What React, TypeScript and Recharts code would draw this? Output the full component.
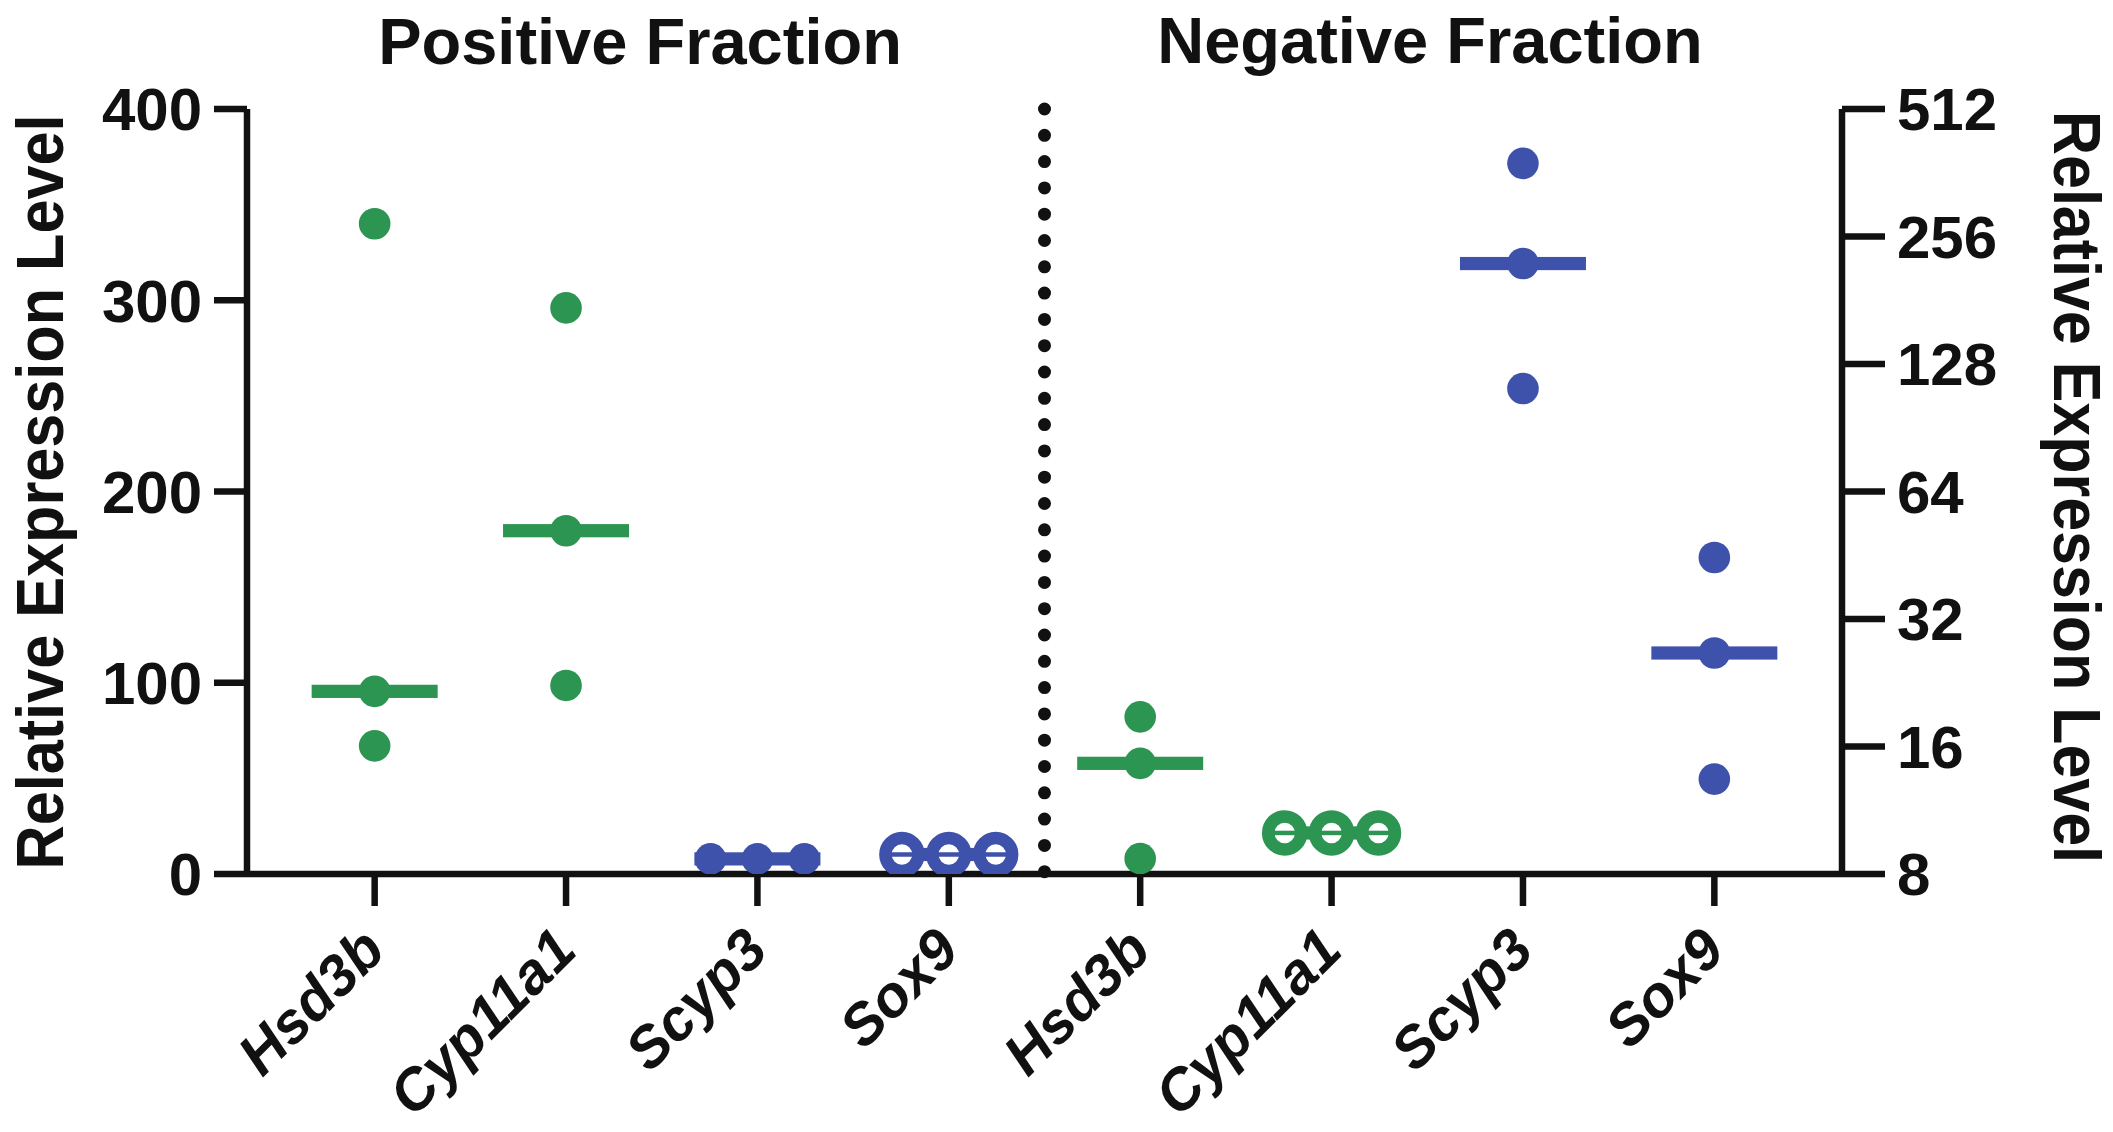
import React from 'react';
import { ComposedChart, Scatter, XAxis, YAxis, ReferenceLine } from 'recharts';

// genes on the x axis, first four = positive fraction, last four = negative fraction
const categories = ['Hsd3b', 'Cyp11a1', 'Scyp3', 'Sox9', 'Hsd3b', 'Cyp11a1', 'Scyp3', 'Sox9'];
const groupTitles = ['Positive Fraction', 'Negative Fraction'];

// three replicates per gene
const positiveValues = [
  [340, 95.5, 67],
  [296, 179.5, 98.6],
  [7.9, 7.9, 7.9],
  [10.2, 10.2, 10.2],
];
const negativeValues = [
  [18.8, 14.6, 8.7],
  [10, 10, 10],
  [381, 221, 112],
  [44.7, 26.6, 13.4],
];

const leftTicks = [0, 100, 200, 300, 400];
const rightTicks = [8, 16, 32, 64, 128, 256, 512];
const xTicks = [0, 1, 2, 3, 4, 5, 6, 7];

const GREEN = '#2b9551';
const BLUE = '#3f52ab';
const INK = '#111111';
const FONT = '"Liberation Sans", Arial, Helvetica, sans-serif';
const geneColors = [GREEN, GREEN, BLUE, BLUE];
const hollowMarkers = [false, false, false, true, false, true, false, false];

const AXIS_W = 6.5;
const X_DOMAIN: [number, number] = [-0.667, 7.667];

const median = (v: number[]) => [...v].sort((a, b) => a - b)[Math.floor(v.length / 2)];

// identical replicates get spread sideways, like prism does
const spreadOf = (v: number[]) =>
  v.every((d) => Math.abs(d - v[0]) < 0.5) ? v.map((_, j) => (j - (v.length - 1) / 2) * 0.245) : v.map(() => 0);

const buildPoints = (values: number[][], start: number) =>
  values.flatMap((vals, g) => {
    const offs = spreadOf(vals);
    return vals.map((v, j) => ({
      x: start + g + offs[j],
      y: v,
      color: geneColors[g],
      hollow: hollowMarkers[start + g],
    }));
  });

const buildMedians = (values: number[][], start: number) =>
  values.map((vals, g) => ({ x: start + g, y: median(vals), color: geneColors[g] }));

const positivePoints = buildPoints(positiveValues, 0);
const negativePoints = buildPoints(negativeValues, 4);
const positiveMedians = buildMedians(positiveValues, 0);
const negativeMedians = buildMedians(negativeValues, 4);

const Dot = (props: any) => {
  const { cx, cy, payload } = props;
  if (payload.hollow) {
    return (
      <g>
        <circle cx={cx} cy={cy} r={16.5} fill="#fff" stroke={payload.color} strokeWidth={12.5} />
        <line x1={cx - 11} x2={cx + 11} y1={cy} y2={cy} stroke={payload.color} strokeWidth={4.5} />
      </g>
    );
  }
  return <circle cx={cx} cy={cy} r={15.8} fill={payload.color} />;
};

const MedianBar = (props: any) => {
  const { cx, cy, payload } = props;
  return <rect x={cx - 63} y={cy - 6.6} width={126} height={13.2} fill={payload.color} />;
};

const GeneTick = (props: any) => {
  const { x, y, payload } = props;
  const ax = x + 13;
  const ay = y + 47;
  return (
    <text
      x={ax}
      y={ay}
      transform={`rotate(-45 ${ax} ${ay})`}
      textAnchor="end"
      fontFamily={FONT}
      fontSize={58}
      fontWeight="bold"
      fontStyle="italic"
      fill={INK}
    >
      {categories[payload.value]}
    </text>
  );
};

const tickText = { fontFamily: FONT, fontSize: 60, fontWeight: 'bold', fill: INK };
const axisLine = { stroke: INK, strokeWidth: AXIS_W };

export default function App() {
  return (
    <div style={{ position: 'relative', width: 2113, height: 1132, background: '#fff' }}>
      <style>{'body{margin:0}'}</style>
      <ComposedChart
        width={2113}
        height={1132}
        margin={{ top: 109, right: 121, bottom: 58, left: 97 }}
      >
        <XAxis
          dataKey="x"
          type="number"
          domain={X_DOMAIN}
          allowDataOverflow
          ticks={xTicks}
          interval={0}
          height={200}
          tickSize={32}
          tickMargin={0}
          axisLine={axisLine}
          tickLine={axisLine}
          tick={<GeneTick />}
        />
        <XAxis
          xAxisId="top"
          dataKey="x"
          orientation="top"
          type="number"
          domain={X_DOMAIN}
          allowDataOverflow
          height={0}
          axisLine={axisLine}
          tickLine={false}
          tick={false}
        />
        <YAxis
          yAxisId="left"
          dataKey="y"
          type="number"
          domain={[0, 400]}
          allowDataOverflow
          ticks={leftTicks}
          interval={0}
          width={150}
          tickSize={33}
          tickMargin={12}
          axisLine={axisLine}
          tickLine={axisLine}
          tick={tickText}
        />
        <YAxis
          yAxisId="right"
          dataKey="y"
          orientation="right"
          type="number"
          scale="log"
          domain={[8, 512]}
          allowDataOverflow
          ticks={rightTicks}
          interval={0}
          width={150}
          tickSize={43}
          tickMargin={12}
          axisLine={axisLine}
          tickLine={axisLine}
          tick={tickText}
        />
        <ReferenceLine
          yAxisId="left"
          segment={[{ x: 3.5, y: 400 }, { x: 3.5, y: 0 }]}
          stroke={INK}
          strokeWidth={13}
          strokeDasharray="0 26.3"
          strokeLinecap="round"
        />
        <Scatter yAxisId="left" data={positiveMedians} shape={<MedianBar />} isAnimationActive={false} />
        <Scatter yAxisId="right" data={negativeMedians} shape={<MedianBar />} isAnimationActive={false} />
        <Scatter yAxisId="left" data={positivePoints} shape={<Dot />} isAnimationActive={false} />
        <Scatter yAxisId="right" data={negativePoints} shape={<Dot />} isAnimationActive={false} />
      </ComposedChart>
      <svg
        width={2113}
        height={1132}
        style={{ position: 'absolute', left: 0, top: 0, pointerEvents: 'none' }}
        fontFamily={FONT}
        fontWeight="bold"
        fill={INK}
      >
        <text x={640} y={64} textAnchor="middle" fontSize={65}>{groupTitles[0]}</text>
        <text x={1430} y={63} textAnchor="middle" fontSize={65}>{groupTitles[1]}</text>
        <text
          x={63}
          y={492}
          transform="rotate(-90 63 492)"
          textAnchor="middle"
          fontSize={66}
          textLength={755}
          lengthAdjust="spacingAndGlyphs"
        >
          Relative Expression Level
        </text>
        <text
          x={2054}
          y={487}
          transform="rotate(90 2054 487)"
          textAnchor="middle"
          fontSize={66}
          textLength={752}
          lengthAdjust="spacingAndGlyphs"
        >
          Relative Expression Level
        </text>
      </svg>
    </div>
  );
}
